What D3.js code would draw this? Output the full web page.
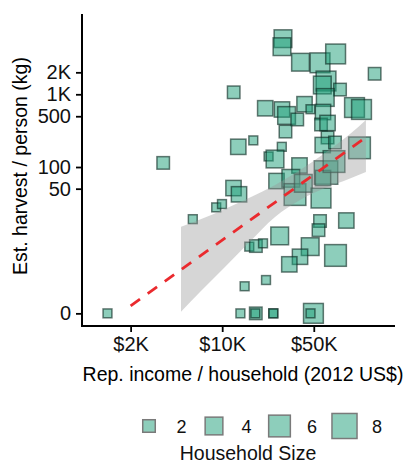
<!DOCTYPE html>
<html><head><meta charset="utf-8">
<script src="https://cdn.jsdelivr.net/npm/d3@7"></script>
<style>
body{margin:0;background:#fff}
svg{display:block;font-family:"Liberation Sans",Arial,Helvetica,sans-serif}
</style></head><body>
<svg id="chart" width="409" height="465"></svg>
<script>
// Household records: reported income, estimated harvest per person, household size
const income = [29100, 28600, 39600, 55800, 73400, 145700, 12240, 62000, 58100, 79300, 61200, 21300, 28600, 31000, 42500, 37400, 47200, 58800, 56800, 63700, 30400, 102300, 115700, 13270, 17270, 28500, 22600, 25300, 38900, 63700, 58500, 72600, 111700, 3545, 12200, 13440, 9000, 9960, 5965, 25970, 33400, 35950, 41600, 62000, 58800, 71350, 56800, 55800, 54340, 88600, 27470, 16100, 18080, 20490, 46960, 39260, 32530, 73260, 21600, 14830, 13770, 18050, 17900, 24550, 24550, 49700, 47200, 1332];
const harvest = [5780, 4490, 2750, 2700, 3570, 1910, 1065, 1520, 1340, 1160, 904, 643, 619, 512, 731, 451, 624, 571, 385, 404, 308, 658, 619, 190, 233, 190, 140, 129, 105, 255, 201, 218, 184, 114, 51, 41.7, 27.3, 30.4, 18.5, 63.9, 69.7, 41.4, 59.4, 83.9, 70.3, 119, 36.9, 17.4, 12.8, 17.7, 10.5, 7.2, 7.35, 8.1, 7.2, 4.96, 3.69, 5.21, 1.86, 1.35, 0, 0, 0, 0, 0, 0, 0, 0];
const hhSize = [4, 4, 4, 5, 5, 2, 2, 5, 4, 2, 4, 3, 3, 4, 3, 2, 1, 3, 2, 3, 2, 5, 5, 3, 1, 1, 1, 4, 3, 2, 3, 2, 6, 2, 3, 3, 1, 1, 1, 3, 4, 6, 4, 7, 3, 6, 5, 2, 2, 3, 4, 1, 2, 1, 4, 3, 3, 6, 1, 1, 1, 2, 1, 1, 1, 5, 1, 1];

// Fitted trend and its confidence band
const fitIncome = [2000, 125000];
const fitHarvest = [0.27, 257];
const bandIncome = [4850, 6770, 10500, 16300, 25300, 39300, 60900, 94500, 125000];
const bandLow = [0.05, 0.96, 3.31, 8.63, 19.9, 34.6, 51.0, 69.2, 85.2];
const bandHigh = [14.4, 18.3, 25.9, 37.6, 56.2, 90.8, 156, 285, 444];

// Axis ticks and legend entries
const xTicks = [2000, 10000, 50000];
const xTickLabels = ["$2K", "$10K", "$50K"];
const yTicks = [0, 50, 100, 500, 1000, 2000];
const yTickLabels = ["0", "50", "100", "500", "1K", "2K"];
const legendSizes = [2, 4, 6, 8];

const svg = d3.select("#chart");
const plot = {left: 82, right: 395, top: 14, bottom: 326};

const x = d3.scaleLog().domain([851, 208400]).range([plot.left, plot.right]);
const y = d3.scaleSymlog().constant(1).domain([-0.49, 12590]).range([plot.bottom, plot.top]);
const side = d3.scaleSqrt().domain([0, 10]).range([0, 28]);

const fillColor = "#1b9e77";

// points
const pts = income.map((v, i) => ({inc: v, hv: harvest[i], n: hhSize[i]}));
svg.append("g").selectAll("rect").data(pts).join("rect")
  .attr("x", d => x(d.inc) - side(d.n) / 2)
  .attr("y", d => y(d.hv) - side(d.n) / 2)
  .attr("width", d => side(d.n))
  .attr("height", d => side(d.n))
  .attr("fill", fillColor).attr("fill-opacity", 0.5)
  .attr("stroke", "#0d2a22").attr("stroke-opacity", 0.62).attr("stroke-width", 1.5);

// confidence band
const band = bandIncome.map((v, i) => ({inc: v, lo: bandLow[i], hi: bandHigh[i]}));
svg.append("path").datum(band)
  .attr("d", d3.area().x(d => x(d.inc)).y0(d => y(d.lo)).y1(d => y(d.hi)).curve(d3.curveMonotoneX))
  .attr("fill", "#999").attr("fill-opacity", 0.4);

// trend line
const fit = fitIncome.map((v, i) => ({inc: v, hv: fitHarvest[i]}));
svg.append("path").datum(fit)
  .attr("d", d3.line().x(d => x(d.inc)).y(d => y(d.hv)))
  .attr("fill", "none").attr("stroke", "#ea2a2e").attr("stroke-width", 2.8)
  .attr("stroke-dasharray", "11.5,9.5");

// axes
const xAxis = svg.append("g").attr("transform", `translate(0,${plot.bottom})`)
  .call(d3.axisBottom(x).tickValues(xTicks).tickFormat((d, i) => xTickLabels[i])
    .tickSize(6).tickSizeOuter(0).tickPadding(5));
const yAxis = svg.append("g").attr("transform", `translate(${plot.left},0)`)
  .call(d3.axisLeft(y).tickValues(yTicks).tickFormat((d, i) => yTickLabels[i])
    .tickSize(6).tickSizeOuter(0).tickPadding(5));
[xAxis, yAxis].forEach(g => {
  g.select(".domain").attr("stroke", "#000").attr("stroke-width", 2);
  g.selectAll(".tick line").attr("stroke", "#000").attr("stroke-width", 1.8);
  g.selectAll(".tick text").attr("fill", "#111").style("font-size", "20px")
    .style("font-family", '"Liberation Sans",Arial,sans-serif');
});
xAxis.select(".domain").attr("d", `M${plot.left - 1},0H${plot.right}`);
yAxis.select(".domain").attr("d", `M0,${plot.bottom + 1}V${plot.top}`);

// axis titles
svg.append("text").attr("x", 243).attr("y", 381).attr("text-anchor", "middle")
  .style("font-size", "19.5px").attr("fill", "#000")
  .text("Rep. income / household (2012 US$)");
svg.append("text").attr("transform", "translate(27,166) rotate(-90)").attr("text-anchor", "middle")
  .style("font-size", "19.5px").attr("fill", "#000")
  .text("Est. harvest / person (kg)");

// size legend
const legendX = [149, 214, 279.5, 344.5];
const legend = svg.append("g");
legendSizes.forEach((n, i) => {
  const s = side(n);
  legend.append("rect")
    .attr("x", legendX[i] - s / 2).attr("y", 426 - s / 2)
    .attr("width", s).attr("height", s)
    .attr("fill", fillColor).attr("fill-opacity", 0.5)
    .attr("stroke", "#7a7a7a").attr("stroke-width", 1.5);
  legend.append("text").attr("x", legendX[i] + 27.5).attr("y", 432.5)
    .style("font-size", "18px").attr("fill", "#111").text(n);
});
svg.append("text").attr("x", 248).attr("y", 460).attr("text-anchor", "middle")
  .style("font-size", "19.5px").attr("fill", "#111").text("Household Size");
</script>
</body></html>
